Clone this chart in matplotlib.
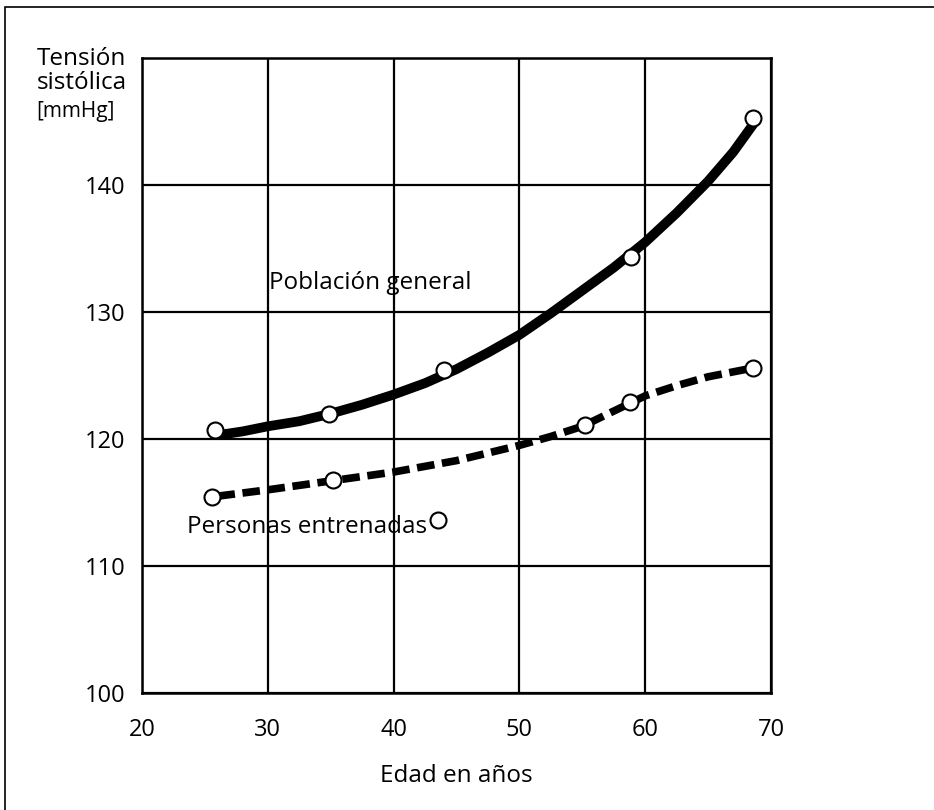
import matplotlib
matplotlib.use("Agg")
import matplotlib.pyplot as plt
from matplotlib.patches import Rectangle

plt.rcParams['font.family'] = ['Open Sans', 'DejaVu Sans']

# Measured points (open circles)
general_age = [25.8, 34.9, 44.0, 58.9, 68.6]
general_bp = [120.7, 122.0, 125.4, 134.3, 145.3]
trained_age = [25.6, 35.2, 43.5, 55.2, 58.8, 68.6]
trained_bp = [115.4, 116.8, 113.6, 121.1, 122.9, 125.6]

# Trend curves drawn through the data
general_curve_age = [26, 28, 30, 32.5, 35, 37.5, 40, 42.5, 45, 47.5, 50,
                     52.5, 55, 57.5, 60, 62.5, 65, 67, 68.6]
general_curve_bp = [120.3, 120.6, 121.0, 121.4, 122.0, 122.7, 123.5, 124.4,
                    125.5, 126.8, 128.2, 129.9, 131.7, 133.5, 135.5, 137.8,
                    140.3, 142.6, 144.8]
trained_curve_age = [26, 30, 35, 40, 45, 50, 52.5, 55, 57.5, 60, 62.5, 65, 68.6]
trained_curve_bp = [115.5, 116.0, 116.7, 117.4, 118.3, 119.5, 120.2, 121.0,
                    122.2, 123.4, 124.2, 124.9, 125.6]

x_ticks = [20, 30, 40, 50, 60, 70]
y_ticks = [100, 110, 120, 130, 140]

fig = plt.figure(figsize=(9.34, 8.10), dpi=100)
ax = fig.add_axes([0.152, 0.1444, 0.6735, 0.784])

ax.set_xlim(20, 70)
ax.set_ylim(100, 150)
ax.set_xticks(x_ticks)
ax.set_yticks(y_ticks)
ax.tick_params(axis='both', length=0, labelsize=17)
ax.tick_params(axis='x', pad=18)
ax.tick_params(axis='y', pad=12)
ax.grid(True, color='black', linewidth=1.6)
ax.set_axisbelow(True)
for s in ax.spines.values():
    s.set_linewidth(1.8)
    s.set_color('black')

ax.plot(general_curve_age, general_curve_bp, color='black', linewidth=7,
        solid_capstyle='round', solid_joinstyle='round', zorder=3)
ax.plot(trained_curve_age, trained_curve_bp, color='black', linewidth=5.5,
        linestyle=(0, (2.3, 1.0)), zorder=3)

ax.plot(general_age, general_bp, linestyle='none', marker='o', markersize=11.5,
        markerfacecolor='white', markeredgecolor='black', markeredgewidth=1.5,
        zorder=4)
ax.plot(trained_age, trained_bp, linestyle='none', marker='o', markersize=11.5,
        markerfacecolor='white', markeredgecolor='black', markeredgewidth=1.5,
        zorder=4)

ax.text(30.1, 132.3, 'Población general', fontsize=17.5, va='center', ha='left',
        zorder=5)
ax.text(23.6, 113.1, 'Personas entrenadas', fontsize=17.5, va='center', ha='left',
        zorder=5)

ax.set_xlabel('Edad en años', fontsize=17.5, labelpad=16)

fig.text(0.039, 0.927, 'Tensión', fontsize=17.5, ha='left', va='center')
fig.text(0.039, 0.897, 'sistólica', fontsize=17.5, ha='left', va='center')
fig.text(0.039, 0.862, '[mmHg]', fontsize=15, ha='left', va='center')

# frame around the figure (top and left edges visible)
fig.patches.append(Rectangle((0.0055, -0.05), 1.2, 1.0413, transform=fig.transFigure,
                             fill=False, edgecolor='black', linewidth=1.2))

fig.savefig('out.png', dpi=100, facecolor='white')
